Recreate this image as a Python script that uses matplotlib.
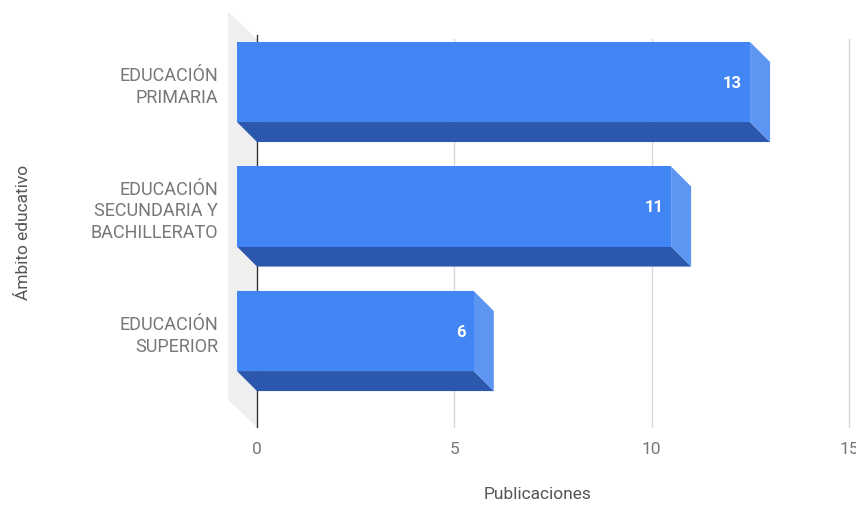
import matplotlib.pyplot as plt
from matplotlib.patches import Polygon
import numpy as np

plt.rcParams['font.family'] = ['Roboto', 'DejaVu Sans']

# Data
categories = ['EDUCACIÓN\nPRIMARIA', 'EDUCACIÓN\nSECUNDARIA Y\nBACHILLERATO', 'EDUCACIÓN\nSUPERIOR']
publicaciones = [13, 11, 6]
x_ticks = [0, 5, 10, 15]

FRONT = '#4285F4'
BOTTOM = '#2B57AD'
SIDE = '#5C95F2'
WALL = '#EFEFEF'
TEXT = '#777777'

fig = plt.figure(figsize=(8.56, 5.06), dpi=100)
ax = fig.add_axes([257 / 856, 78 / 506, 592 / 856, 388 / 506])
ax.set_xlim(0, 15)
ax.set_ylim(-0.61, 2.506)

# depth offset of the 3D effect, 20 px to the upper-left, in data units
inv = ax.transData.inverted()
o = ax.transData.transform((0, 0))
dx, dy = inv.transform(o + np.array([20, 20]))
wx, wy = inv.transform(o + np.array([29, 27]))

pos = np.arange(len(categories))[::-1]
h = 0.643

# left wall
ylo, yhi = ax.get_ylim()
ax.add_patch(Polygon([(0, ylo), (0, yhi), (-wx, yhi + wy), (-wx, ylo + wy)],
                     closed=True, facecolor=WALL, edgecolor='none', clip_on=False, zorder=0))

# grid on the back plane
for t in x_ticks[1:]:
    ax.plot([t, t], [ylo, yhi], color='#d9d9d9', lw=1, zorder=1, clip_on=False)
ax.plot([0, 0], [ylo, yhi + 0.03], color='#333333', lw=1, zorder=1, clip_on=False)

for p, v in zip(pos, publicaciones):
    yb, yt = p - h / 2, p + h / 2
    # bottom face
    ax.add_patch(Polygon([(0, yb), (v, yb), (v - dx, yb + dy), (-dx, yb + dy)],
                         closed=True, facecolor=BOTTOM, edgecolor='none', zorder=3, clip_on=False))
    # right face
    ax.add_patch(Polygon([(v, yb), (v, yt), (v - dx, yt + dy), (v - dx, yb + dy)],
                         closed=True, facecolor=SIDE, edgecolor='none', zorder=3, clip_on=False))
    ax.text(v - dx - 0.2, p + dy, str(v), ha='right', va='center',
            color='white', fontsize=12, fontweight='bold', zorder=5)

# front faces
ax.barh(pos + dy, publicaciones, left=-dx, height=h, color=FRONT, zorder=4, clip_on=False)

ax.set_xticks(x_ticks)
ax.set_xticklabels([str(t) for t in x_ticks])
ax.set_yticks(pos + dy)
ax.set_yticklabels(categories, linespacing=1.25)
ax.tick_params(axis='x', length=0, pad=10, labelsize=12.5, labelcolor=TEXT)
ax.tick_params(axis='y', length=0, pad=28, labelsize=13, labelcolor=TEXT)
for s in ax.spines.values():
    s.set_visible(False)
ax.patch.set_visible(False)

fig.text(538 / 856, 1 - 495 / 506, 'Publicaciones', ha='center', va='center',
         fontsize=12.5, color='#555555')
fig.text(24 / 856, 1 - 232 / 506, 'Ámbito educativo', ha='center', va='center',
         rotation=90, fontsize=12.5, color='#555555')

fig.savefig('out.png', dpi=100, facecolor='white')
